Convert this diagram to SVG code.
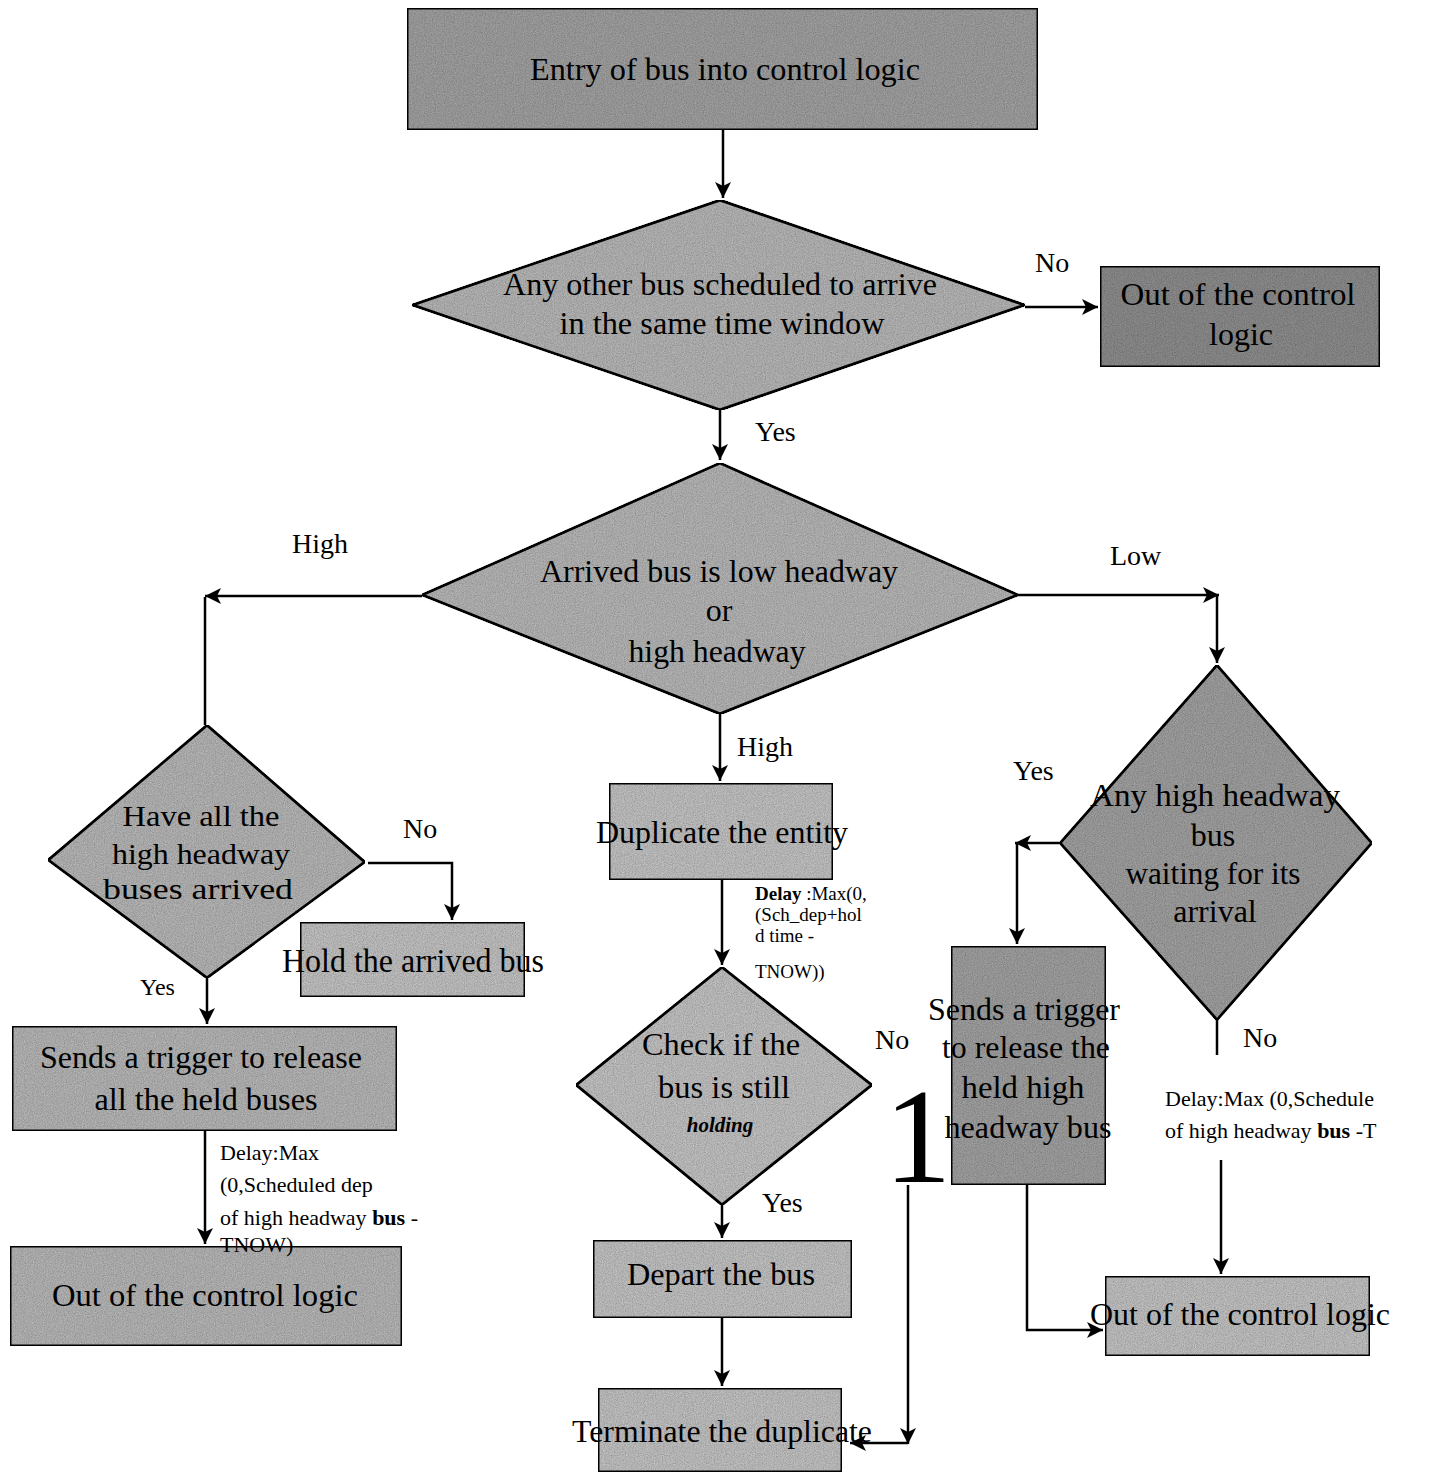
<svg xmlns="http://www.w3.org/2000/svg" width="1439" height="1477" viewBox="0 0 1439 1477">
<defs>
<style>
.box{stroke:#000;stroke-width:3;filter:url(#grain)}
.g1{fill:#b8b8b8}
.g2{fill:#a2a2a2}
.g3{fill:#c4c4c4}
.t{font-family:"Liberation Serif","Times New Roman",serif;font-size:32px;fill:#000;text-anchor:middle}
.l{font-family:"Liberation Serif","Times New Roman",serif;font-size:28px;fill:#000}
.s{font-family:"Liberation Serif","Times New Roman",serif;font-size:22px;fill:#000}
.m{font-family:"Liberation Serif","Times New Roman",serif;font-size:19px;fill:#000}
.c{fill:none;stroke:#000;stroke-width:2.5}
.a{marker-end:url(#ah)}
</style>
<marker id="ah" markerUnits="userSpaceOnUse" markerWidth="18" markerHeight="16" refX="16" refY="8" orient="auto">
<path d="M0,0 L16,8 L0,16 L4,8 z" fill="#000"/>
</marker>
<filter id="grain" x="0" y="0" width="100%" height="100%">
<feTurbulence type="fractalNoise" baseFrequency="0.9" numOctaves="2" seed="7" result="n"/>
<feColorMatrix in="n" type="saturate" values="0" result="ng"/>
<feComponentTransfer in="ng" result="nm">
<feFuncR type="linear" slope="0.9" intercept="0.35"/>
<feFuncG type="linear" slope="0.9" intercept="0.35"/>
<feFuncB type="linear" slope="0.9" intercept="0.35"/>
<feFuncA type="linear" slope="0" intercept="1"/>
</feComponentTransfer>
<feBlend in="SourceGraphic" in2="nm" mode="multiply" result="b"/>
<feComposite in="b" in2="SourceGraphic" operator="in"/>
</filter>
</defs>

<g id="connectors">
<path class="c a" d="M723,130 V198"/>
<path class="c a" d="M1025,307 H1098"/>
<path class="c a" d="M720,410 V460"/>
<path class="c a" d="M422,596 H205"/>
<path class="c" d="M205,597 V725"/>
<path class="c a" d="M1018,595 H1219"/>
<path class="c a" d="M1217,596 V663"/>
<path class="c a" d="M720,714 V781"/>
<path class="c a" d="M368,863 H452 V920"/>
<path class="c a" d="M207,978 V1024"/>
<path class="c a" d="M205,1131 V1244"/>
<path class="c a" d="M722,880 V965"/>
<path class="c a" d="M722,1205 V1238"/>
<path class="c a" d="M722,1318 V1386"/>
<path class="c a" d="M908,1185 V1444"/>
<path class="c a" d="M908,1443 H850"/>
<path class="c a" d="M1060,843 H1015"/>
<path class="c a" d="M1017,843 V944"/>
<path class="c a" d="M1027,1185 V1330 H1103"/>
<path class="c" d="M1217,1020 V1055"/>
<path class="c a" d="M1221,1160 V1274"/>
</g>

<g id="entry">
<rect class="box g2" x="407" y="8" width="631" height="122"/>
<text class="t" x="725" y="80" textLength="390" lengthAdjust="spacingAndGlyphs">Entry of bus into control logic</text>
</g>

<g id="any-other-bus">
<polygon class="box g1" points="412,305 720,200 1025,305 720,410"/>
<text class="t" x="720" y="295" textLength="434" lengthAdjust="spacingAndGlyphs">Any other bus scheduled to arrive</text>
<text class="t" x="722" y="334" textLength="325" lengthAdjust="spacingAndGlyphs">in the same time window</text>
</g>

<g id="out-top">
<rect class="box" style="fill:#8e8e8e" x="1100" y="266" width="280" height="101"/>
<text class="t" x="1238" y="305" textLength="235" lengthAdjust="spacingAndGlyphs">Out of the control</text>
<text class="t" x="1241" y="345">logic</text>
</g>

<g id="arrived">
<polygon class="box g1" points="422,595 720,463 1018,595 720,714"/>
<text class="t" x="719" y="582" textLength="358" lengthAdjust="spacingAndGlyphs">Arrived bus is low headway</text>
<text class="t" x="719" y="621">or</text>
<text class="t" x="717" y="662" textLength="177" lengthAdjust="spacingAndGlyphs">high headway</text>
</g>

<g id="have-all">
<polygon class="box g1" points="48,860 207,725 365,862 207,978"/>
<text class="t" x="201" y="826" style="font-size:29px" textLength="157" lengthAdjust="spacingAndGlyphs">Have all the</text>
<text class="t" x="201" y="864" style="font-size:29px" textLength="178" lengthAdjust="spacingAndGlyphs">high headway</text>
<text class="t" x="198" y="899" style="font-size:29px" textLength="190" lengthAdjust="spacingAndGlyphs">buses arrived</text>
</g>

<g id="hold">
<rect class="box g3" x="300" y="922" width="225" height="75"/>
<text class="t" x="413" y="972" style="font-size:34px" textLength="262" lengthAdjust="spacingAndGlyphs">Hold the arrived bus</text>
</g>

<g id="send-all">
<rect class="box g1" x="12" y="1026" width="385" height="105"/>
<text class="t" x="201" y="1068" textLength="322" lengthAdjust="spacingAndGlyphs">Sends a trigger to release</text>
<text class="t" x="206" y="1110" textLength="223" lengthAdjust="spacingAndGlyphs">all the held buses</text>
</g>

<g id="out-left">
<rect class="box g1" x="10" y="1246" width="392" height="100"/>
<text class="t" x="205" y="1306" textLength="306" lengthAdjust="spacingAndGlyphs">Out of the control logic</text>
</g>

<g id="duplicate">
<rect class="box g3" x="609" y="783" width="224" height="97"/>
<text class="t" x="722" y="843" textLength="252" lengthAdjust="spacingAndGlyphs">Duplicate the entity</text>
</g>

<g id="check">
<polygon class="box g3" points="576,1085 722,967 872,1085 722,1205"/>
<text class="t" x="721" y="1055" textLength="158" lengthAdjust="spacingAndGlyphs">Check if the</text>
<text class="t" x="724" y="1098" textLength="132" lengthAdjust="spacingAndGlyphs">bus is still</text>
<text class="t" x="720" y="1132" style="font-size:21px;font-style:italic;font-weight:bold">holding</text>
</g>

<g id="depart">
<rect class="box g3" x="593" y="1240" width="259" height="78"/>
<text class="t" x="721" y="1285" textLength="188" lengthAdjust="spacingAndGlyphs">Depart the bus</text>
</g>

<g id="terminate">
<rect class="box g3" x="598" y="1388" width="244" height="84"/>
<text class="t" x="722" y="1442" textLength="300" lengthAdjust="spacingAndGlyphs">Terminate the duplicate</text>
</g>

<g id="any-high">
<polygon class="box g2" points="1060,843 1217,665 1372,843 1217,1020"/>
<text class="t" x="1215" y="806" textLength="250" lengthAdjust="spacingAndGlyphs">Any high headway</text>
<text class="t" x="1213" y="846">bus</text>
<text class="t" x="1213" y="884" textLength="175" lengthAdjust="spacingAndGlyphs">waiting for its</text>
<text class="t" x="1215" y="922">arrival</text>
</g>

<g id="send-trigger">
<rect class="box g2" x="951" y="946" width="155" height="239"/>
<text class="t" x="1024" y="1020" textLength="192" lengthAdjust="spacingAndGlyphs">Sends a trigger</text>
<text class="t" x="1026" y="1058" textLength="168" lengthAdjust="spacingAndGlyphs">to release the</text>
<text class="t" x="1023" y="1098" textLength="123" lengthAdjust="spacingAndGlyphs">held high</text>
<text class="t" x="1028" y="1138" textLength="167" lengthAdjust="spacingAndGlyphs">headway bus</text>
</g>

<g id="out-right">
<rect class="box g3" x="1105" y="1276" width="265" height="80"/>
<text class="t" x="1240" y="1325" textLength="300" lengthAdjust="spacingAndGlyphs">Out of the control logic</text>
</g>

<g id="labels">
<text class="l" x="1035" y="272">No</text>
<text class="l" x="755" y="441">Yes</text>
<text class="l" x="292" y="553">High</text>
<text class="l" x="1110" y="565">Low</text>
<text class="l" x="737" y="756">High</text>
<text class="l" x="403" y="838">No</text>
<text class="l" x="1013" y="780">Yes</text>
<text class="l" x="140" y="995" style="font-size:24px">Yes</text>
<text class="l" x="875" y="1049">No</text>
<text class="l" x="884" y="1182" style="font-size:135px">1</text>
<text class="l" x="1243" y="1047">No</text>
<text class="l" x="762" y="1212">Yes</text>
<text class="s" x="220" y="1160">Delay:Max</text>
<text class="s" x="220" y="1192">(0,Scheduled dep</text>
<text class="s" x="220" y="1225">of high headway <tspan font-weight="bold">bus</tspan> -</text>
<text class="s" x="220" y="1252">TNOW)</text>
<text class="m" x="755" y="900"><tspan font-weight="bold">Delay</tspan> :Max(0,</text>
<text class="m" x="755" y="921">(Sch_dep+hol</text>
<text class="m" x="755" y="942">d time -</text>
<text class="m" x="755" y="978">TNOW))</text>
<text class="s" x="1165" y="1106">Delay:Max (0,Schedule</text>
<text class="s" x="1165" y="1138">of high headway <tspan font-weight="bold">bus</tspan> -T</text>
</g>
</svg>
